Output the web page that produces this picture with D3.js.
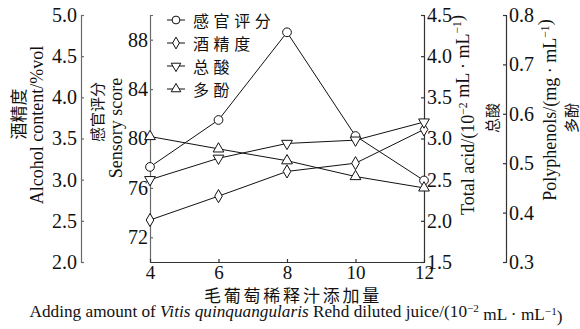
<!DOCTYPE html>
<html>
<head>
<meta charset="utf-8">
<script src="https://cdn.jsdelivr.net/npm/d3@7/dist/d3.min.js"></script>
<style>
  html, body { margin: 0; padding: 0; background: #fff; }
  svg { display: block; }
  text { font-family: "Liberation Serif", "Times New Roman", "Noto Sans CJK SC", serif; fill: #111; }
  .cjk { font-family: "Noto Sans CJK SC", sans-serif; }
</style>
</head>
<body>
<svg id="chart" width="580" height="329"></svg>
<script>
// Juice addition (10^-2 mL/mL)
const additions = [4, 6, 8, 10, 12];
// Series values
const sensoryScore = [77.7, 81.5, 88.6, 80.2, 76.6];
const alcoholContent = [2.51, 2.80, 3.10, 3.20, 3.61];
const totalAcid = [2.50, 2.76, 2.94, 2.98, 3.20];
const polyphenols = [0.554, 0.529, 0.505, 0.473, 0.450];
// Tick values
const xTicks = [4, 6, 8, 10, 12];
const sensoryTicks = [72, 76, 80, 84, 88];
const alcoholTicks = [2.0, 2.5, 3.0, 3.5, 4.0, 4.5, 5.0];
const acidTicks = [1.5, 2.0, 2.5, 3.0, 3.5, 4.0, 4.5];
const polyTicks = [0.3, 0.4, 0.5, 0.6, 0.7, 0.8];
const legendNames = ["感官评分", "酒精度", "总酸", "多酚"];

const svg = d3.select("#chart");
const plotTop = 15, plotBottom = 262, plotLeft = 150, plotRight = 424;

const x = d3.scaleLinear().domain([4, 12]).range([plotLeft, plotRight]);
const ySensory = d3.scaleLinear().domain([70, 90]).range([plotBottom, plotTop]);
const yAlcohol = d3.scaleLinear().domain([2, 5]).range([plotBottom, plotTop]);
const yAcid = d3.scaleLinear().domain([1.5, 4.5]).range([plotBottom, plotTop]);
const yPoly = d3.scaleLinear().domain([0.3, 0.8]).range([plotBottom, plotTop]);

function styleAxis(g, color, size) {
  g.selectAll("path, line").attr("stroke", color).attr("stroke-width", 1.2);
  g.selectAll("text").attr("font-size", size).attr("fill", "#111")
    .attr("font-family", "'Liberation Serif', serif");
}

// Left outer axis: alcohol
svg.append("g").attr("transform", `translate(81,0)`)
  .call(d3.axisLeft(yAlcohol).tickValues(alcoholTicks).tickFormat(d3.format(".1f"))
    .tickSizeInner(-3).tickSizeOuter(-3).tickPadding(4))
  .call(g => styleAxis(g, "#6a6a6a", 20));

// Left inner axis: sensory score
svg.append("g").attr("transform", `translate(${plotLeft},0)`)
  .call(d3.axisLeft(ySensory).tickValues(sensoryTicks).tickFormat(d3.format("d"))
    .tickSizeInner(-3).tickSizeOuter(-3).tickPadding(2))
  .call(g => styleAxis(g, "#6a6a6a", 20));

// Bottom axis
svg.append("g").attr("transform", `translate(0,${plotBottom})`)
  .call(d3.axisBottom(x).tickValues(xTicks).tickFormat(d3.format("d"))
    .tickSizeInner(-3).tickSizeOuter(0).tickPadding(4))
  .call(g => styleAxis(g, "#333", 19));

// Right inner axis: total acid
svg.append("g").attr("transform", `translate(${plotRight},0)`)
  .call(d3.axisRight(yAcid).tickValues(acidTicks).tickFormat(d3.format(".1f"))
    .tickSizeInner(-3).tickSizeOuter(-3).tickPadding(3))
  .call(g => styleAxis(g, "#333", 20));

// Right outer axis: polyphenols
svg.append("g").attr("transform", `translate(506,0)`)
  .call(d3.axisRight(yPoly).tickValues(polyTicks).tickFormat(d3.format(".1f"))
    .tickSizeInner(-3).tickSizeOuter(-3).tickPadding(3))
  .call(g => styleAxis(g, "#333", 20));

// Series definitions
const series = [
  { name: legendNames[0], values: sensoryScore, y: ySensory, symbol: d3.symbolCircle, size: 60, rot: 0 },
  { name: legendNames[1], values: alcoholContent, y: yAlcohol, symbol: d3.symbolDiamond, size: 50, rot: 0 },
  { name: legendNames[2], values: totalAcid, y: yAcid, symbol: d3.symbolTriangle, size: 50, rot: 180 },
  { name: legendNames[3], values: polyphenols, y: yPoly, symbol: d3.symbolTriangle, size: 50, rot: 0 }
];

const plot = svg.append("g");
series.forEach(s => {
  const pts = additions.map((a, i) => [x(a), s.y(s.values[i])]);
  plot.append("path")
    .attr("d", d3.line()(pts))
    .attr("fill", "none").attr("stroke", "#111").attr("stroke-width", 1);
});
series.forEach(s => {
  const sym = d3.symbol().type(s.symbol).size(s.size);
  plot.selectAll(null).data(additions).enter().append("path")
    .attr("d", sym)
    .attr("transform", (a, i) => `translate(${x(a)},${s.y(s.values[i])}) rotate(${s.rot})`)
    .attr("fill", "#fff").attr("stroke", "#111").attr("stroke-width", 1);
});

// Legend
const legend = svg.append("g");
series.forEach((s, i) => {
  const ly = 20 + i * 23;
  legend.append("line").attr("x1", 167).attr("x2", 185).attr("y1", ly).attr("y2", ly)
    .attr("stroke", "#111").attr("stroke-width", 1);
  legend.append("path").attr("d", d3.symbol().type(s.symbol).size(s.size * 0.8))
    .attr("transform", `translate(176,${ly}) rotate(${s.rot})`)
    .attr("fill", "#fff").attr("stroke", "#111").attr("stroke-width", 1);
  legend.append("text").attr("class", "cjk").attr("x", 193).attr("y", ly)
    .attr("dominant-baseline", "central").attr("font-size", 16)
    .attr("letter-spacing", 4.6).text(s.name);
});

// Rotated axis titles
function vTitle(cx, cy, size, cls) {
  return svg.append("text").attr("class", cls || null)
    .attr("transform", `translate(${cx},${cy}) rotate(-90)`)
    .attr("text-anchor", "middle").attr("dominant-baseline", "central")
    .attr("font-size", size);
}
function supText(t, parts) {
  parts.forEach(p => {
    if (p.sup) {
      t.append("tspan").attr("dy", "-0.45em").attr("font-size", "0.65em").text(p.sup);
      t.append("tspan").attr("dy", "0.45em").text("");
    } else {
      t.append("tspan").text(p.t);
    }
  });
}

vTitle(17, 114, 17, "cjk").text("酒精度");
vTitle(37, 125, 18).text("Alcohol content/%vol");
vTitle(96, 112, 15, "cjk").text("感官评分");
vTitle(116, 128, 18).text("Sensory score");

supText(vTitle(468, 115, 18), [{ t: "Total acid/(10" }, { sup: "−2" }, { t: " mL · mL" }, { sup: "−1" }, { t: ")" }]);
vTitle(491, 118, 15, "cjk").text("总酸");
supText(vTitle(550, 110, 18), [{ t: "Polyphenols/(mg · mL" }, { sup: "−1" }, { t: ")" }]);
vTitle(570, 118, 15, "cjk").text("多酚");

// X axis titles
svg.append("text").attr("class", "cjk").attr("x", 293).attr("y", 294)
  .attr("text-anchor", "middle").attr("dominant-baseline", "central")
  .attr("font-size", 17).attr("letter-spacing", 2.8).text("毛葡萄稀释汁添加量");

const xt = svg.append("text").attr("x", 296).attr("y", 317)
  .attr("text-anchor", "middle").attr("font-size", 17)
  .attr("textLength", 533).attr("lengthAdjust", "spacingAndGlyphs");
xt.append("tspan").text("Adding amount of ");
xt.append("tspan").attr("font-style", "italic").text("Vitis quinquangularis");
xt.append("tspan").text(" Rehd diluted juice/(10");
xt.append("tspan").attr("dy", "-0.45em").attr("font-size", "0.65em").text("−2");
xt.append("tspan").attr("dy", "0.45em").text(" mL · mL");
xt.append("tspan").attr("dy", "-0.45em").attr("font-size", "0.65em").text("−1");
xt.append("tspan").attr("dy", "0.45em").text(")");
</script>
</body>
</html>
